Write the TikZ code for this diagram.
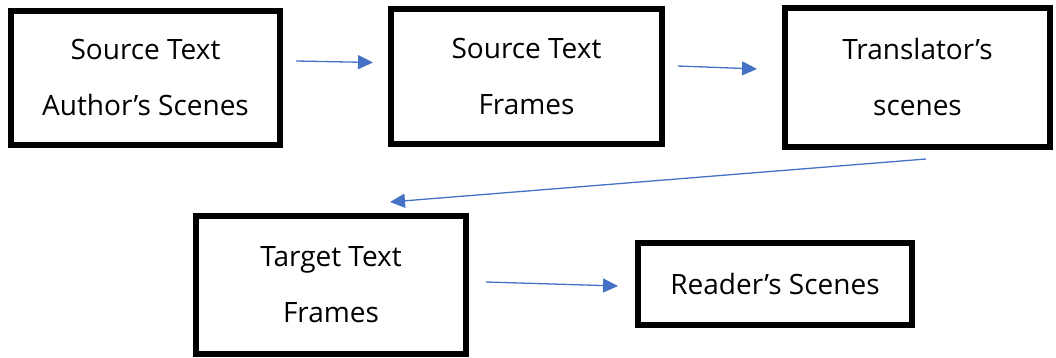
\documentclass[tikz,border=0pt]{standalone}
\usepackage{fontspec}
\setmainfont{Open Sans}
\usetikzlibrary{arrows.meta}
\definecolor{flowblue}{HTML}{4472C4}

\begin{document}
\begin{tikzpicture}[x=1pt,y=-1pt,
  box/.style={draw=black, line width=6pt, fill=white, inner sep=0pt,
    align=center, font=\fontsize{28}{56}\selectfont},
  flow/.style={draw=flowblue, line width=1.3pt,
    -{Triangle[length=15pt,width=14pt,fill=flowblue]}}]
\useasboundingbox (0,0) rectangle (1056,358);

% stages of the process
\node[box, minimum width=269pt, minimum height=134pt] (stA) at (145.5,78)
  {Source Text\\Author’s Scenes};
\node[box, minimum width=271pt, minimum height=135pt] (stF) at (526.5,76.5)
  {Source Text\\Frames};
\node[box, minimum width=265pt, minimum height=139pt] (trS) at (917.5,77.5)
  {Translator’s\\scenes};
\node[box, minimum width=270pt, minimum height=138pt] (ttF) at (331,285)
  {Target Text\\Frames};
\node[box, minimum width=274pt, minimum height=82pt] (rdS) at (775,284)
  {Reader’s Scenes};

% free ends of the connectors, set off from the boxes
\coordinate (a1s) at (296,61);   \coordinate (a1e) at (373,62.5);
\coordinate (a2s) at (678,66);   \coordinate (a2e) at (757,69);
\coordinate (a3s) at (926,159);  \coordinate (a3e) at (390,202);
\coordinate (a4s) at (486,282);  \coordinate (a4e) at (618,286);

\draw[flow] (a1s) -- (a1e);
\draw[flow] (a2s) -- (a2e);
\draw[flow] (a3s) -- (a3e);
\draw[flow] (a4s) -- (a4e);
\end{tikzpicture}
\end{document}
